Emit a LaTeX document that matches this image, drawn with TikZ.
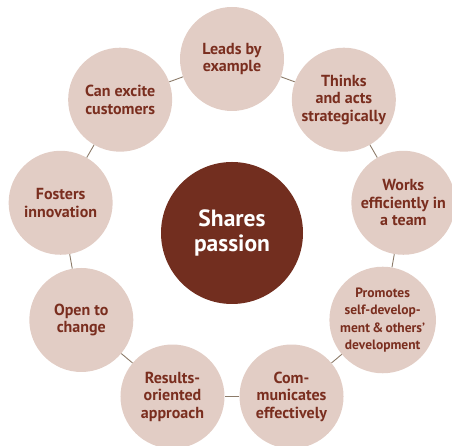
\documentclass[tikz,border=0pt]{standalone}
\usepackage{fontspec}
\setmainfont{PT Sans}
\usetikzlibrary{calc}
\definecolor{passionbrown}{HTML}{722E1F}
\definecolor{petalrose}{HTML}{E2CDC5}
\definecolor{petalink}{HTML}{7A2E1F}
\definecolor{linkgray}{HTML}{8C7B69}

\begin{document}
\begin{tikzpicture}[
  x=1pt, y=1pt,
  font=\bfseries\fontsize{16}{17.5}\selectfont,
  petal/.style={circle, fill=petalrose, minimum size=104pt, inner sep=0pt, align=center, text=petalink},
  hub/.style={circle, fill=passionbrown, minimum size=142pt, inner sep=0pt, align=center, text=white, font=\bfseries\fontsize{23.5}{25}\selectfont},
  small/.style={font=\bfseries\fontsize{13.5}{17.5}\selectfont},
  link/.style={draw=linkgray, line width=0.9pt}
]
\useasboundingbox (0,0) rectangle (452,446);
\node[hub] (hub) at (232,213) {Shares\\passion};

% ring of petals, 40 degrees apart
\node[petal] (lead) at ($(hub)+(90:174)$) {Leads by\\example};
\node[petal] (think) at ($(hub)+(50:174)$) {Thinks\\and acts\\strategically};
\node[petal] (team) at ($(hub)+(10:174)$) {Works\\efficiently in\\a team};
\node[petal, small] (grow) at ($(hub)+(-30:174)$) {Promotes\\self-develop-\\ment\,\&\,others’\\development};
\node[petal] (talk) at ($(hub)+(-70:174)$) {Com-\\municates\\effectively};
\node[petal] (result) at ($(hub)+(-110:174)$) {Results-\\oriented\\approach};
\node[petal] (open) at ($(hub)+(-150:174)$) {Open to\\change};
\node[petal] (foster) at ($(hub)+(170:174)$) {Fosters\\innovation};
\node[petal] (excite) at ($(hub)+(130:174)$) {Can excite\\customers};

\draw[link] (lead) -- (think);
\draw[link] (think) -- (team);
\draw[link] (team) -- (grow);
\draw[link] (grow) -- (talk);
\draw[link] (talk) -- (result);
\draw[link] (result) -- (open);
\draw[link] (open) -- (foster);
\draw[link] (foster) -- (excite);
\draw[link] (excite) -- (lead);
\end{tikzpicture}
\end{document}
